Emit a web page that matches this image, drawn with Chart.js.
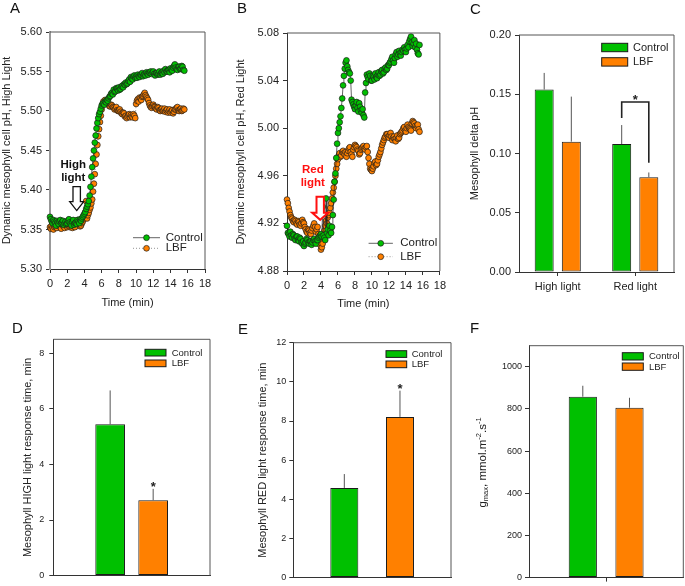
<!DOCTYPE html>
<html>
<head>
<meta charset="utf-8">
<title>Mesophyll pH responses</title>
<script src="https://cdn.jsdelivr.net/npm/chart.js@4.4.1/dist/chart.umd.min.js"></script>
<style>
  html, body { margin: 0; padding: 0; background: #fff; }
  #wrap { position: relative; width: 685px; height: 586px; overflow: hidden; font-family: "Liberation Sans", Arial, sans-serif; }
  #wrap canvas { position: absolute; }
  .tag { position: absolute; font-size: 15px; line-height: 15px; color: #111; }
</style>
</head>
<body>
<div id="wrap">
  <canvas id="chartA" style="left:0;top:0"></canvas>
  <canvas id="chartB" style="left:225px;top:0"></canvas>
  <canvas id="chartC" style="left:450px;top:0"></canvas>
  <canvas id="chartD" style="left:0;top:315px"></canvas>
  <canvas id="chartE" style="left:225px;top:315px"></canvas>
  <canvas id="chartF" style="left:455px;top:315px"></canvas>
  <div class="tag" style="left:10px;top:0">A</div>
  <div class="tag" style="left:237px;top:0">B</div>
  <div class="tag" style="left:470px;top:1px">C</div>
  <div class="tag" style="left:12px;top:320px">D</div>
  <div class="tag" style="left:238px;top:321px">E</div>
  <div class="tag" style="left:470px;top:320px">F</div>
</div>
<script>
// ---- data ----
const timeMin = [0, 0.1, 0.2, 0.3, 0.4, 0.5, 0.6, 0.7, 0.8, 0.9,
	1, 1.1, 1.2, 1.3, 1.4, 1.5, 1.6, 1.7, 1.8, 1.9,
	2, 2.1, 2.2, 2.3, 2.4, 2.5, 2.6, 2.7, 2.8, 2.9,
	3, 3.1, 3.2, 3.3, 3.4, 3.5, 3.6, 3.7, 3.8, 3.9,
	4, 4.1, 4.2, 4.3, 4.4, 4.5, 4.6, 4.7, 4.8, 4.9,
	5, 5.1, 5.2, 5.3, 5.4, 5.5, 5.6, 5.7, 5.8, 5.9,
	6, 6.1, 6.2, 6.3, 6.4, 6.5, 6.6, 6.7, 6.8, 6.9,
	7, 7.1, 7.2, 7.3, 7.4, 7.5, 7.6, 7.7, 7.8, 7.9,
	8, 8.1, 8.2, 8.3, 8.4, 8.5, 8.6, 8.7, 8.8, 8.9,
	9, 9.1, 9.2, 9.3, 9.4, 9.5, 9.6, 9.7, 9.8, 9.9,
	10, 10.1, 10.2, 10.3, 10.4, 10.5, 10.6, 10.7, 10.8, 10.9,
	11, 11.1, 11.2, 11.3, 11.4, 11.5, 11.6, 11.7, 11.8, 11.9,
	12, 12.1, 12.2, 12.3, 12.4, 12.5, 12.6, 12.7, 12.8, 12.9,
	13, 13.1, 13.2, 13.3, 13.4, 13.5, 13.6, 13.7, 13.8, 13.9,
	14, 14.1, 14.2, 14.3, 14.4, 14.5, 14.6, 14.7, 14.8, 14.9,
	15, 15.1, 15.2, 15.3, 15.4, 15.5, 15.6];
const timeTicks = [0, 2, 4, 6, 8, 10, 12, 14, 16, 18];

// A: high light
const highCtrl = [5.366, 5.363, 5.360, 5.358, 5.362, 5.360, 5.358, 5.355, 5.361, 5.359,
	5.357, 5.360, 5.362, 5.358, 5.359, 5.361, 5.356, 5.358, 5.360, 5.357,
	5.358, 5.361, 5.363, 5.359, 5.357, 5.355, 5.360, 5.362, 5.356, 5.358,
	5.359, 5.357, 5.362, 5.360, 5.358, 5.363, 5.361, 5.364, 5.366, 5.368,
	5.370, 5.372, 5.376, 5.379, 5.382, 5.386, 5.393, 5.404, 5.417, 5.429,
	5.440, 5.450, 5.460, 5.469, 5.478, 5.485, 5.491, 5.496, 5.499, 5.503,
	5.507, 5.509, 5.510, 5.508, 5.512, 5.511, 5.514, 5.513, 5.516, 5.518,
	5.519, 5.522, 5.523, 5.521, 5.527, 5.524, 5.525, 5.529, 5.528, 5.526,
	5.530, 5.527, 5.528, 5.531, 5.532, 5.530, 5.534, 5.533, 5.536, 5.534,
	5.535, 5.538, 5.540, 5.537, 5.543, 5.541, 5.540, 5.544, 5.545, 5.542,
	5.544, 5.542, 5.546, 5.544, 5.543, 5.546, 5.545, 5.548, 5.544, 5.546,
	5.547, 5.545, 5.549, 5.547, 5.546, 5.549, 5.548, 5.550, 5.547, 5.549,
	5.550, 5.547, 5.545, 5.548, 5.548, 5.546, 5.547, 5.550, 5.546, 5.548,
	5.549, 5.547, 5.551, 5.549, 5.553, 5.550, 5.550, 5.552, 5.552, 5.549,
	5.554, 5.552, 5.551, 5.555, 5.557, 5.559, 5.555, 5.553, 5.552, 5.556,
	5.556, 5.553, 5.554, 5.557, 5.556, 5.552, 5.551];
const highLbf = [5.353, 5.351, 5.355, 5.352, 5.350, 5.353, 5.354, 5.356, 5.352, 5.355,
	5.356, 5.354, 5.353, 5.351, 5.358, 5.355, 5.354, 5.352, 5.357, 5.355,
	5.353, 5.355, 5.356, 5.353, 5.354, 5.357, 5.352, 5.354, 5.355, 5.353,
	5.358, 5.360, 5.362, 5.359, 5.357, 5.354, 5.355, 5.358, 5.360, 5.363,
	5.366, 5.372, 5.386, 5.364, 5.368, 5.371, 5.375, 5.378, 5.383, 5.388,
	5.398, 5.408, 5.420, 5.433, 5.445, 5.457, 5.468, 5.477, 5.486, 5.494,
	5.502, 5.508, 5.512, 5.510, 5.514, 5.512, 5.511, 5.509, 5.508, 5.506,
	5.506, 5.508, 5.507, 5.505, 5.504, 5.502, 5.503, 5.505, 5.501, 5.500,
	5.500, 5.502, 5.499, 5.497, 5.496, 5.498, 5.497, 5.493, 5.494, 5.491,
	5.493, 5.495, 5.496, 5.492, 5.495, 5.493, 5.492, 5.496, 5.494, 5.491,
	5.509, 5.513, 5.515, 5.512, 5.517, 5.516, 5.514, 5.518, 5.519, 5.521,
	5.523, 5.520, 5.518, 5.516, 5.514, 5.510, 5.507, 5.505, 5.504, 5.506,
	5.508, 5.506, 5.505, 5.503, 5.502, 5.505, 5.504, 5.501, 5.500, 5.502,
	5.503, 5.500, 5.501, 5.503, 5.499, 5.501, 5.502, 5.498, 5.500, 5.502,
	5.498, 5.500, 5.501, 5.497, 5.499, 5.502, 5.502, 5.504, 5.505, 5.501,
	5.500, 5.502, 5.503, 5.500, 5.501, 5.503, 5.502];
const highTicks = [5.30, 5.35, 5.40, 5.45, 5.50, 5.55, 5.60];

// B: red light
const redCtrl = [4.918, 4.912, 4.911, 4.909, 4.913, 4.910, 4.908, 4.911, 4.910, 4.907,
	4.906, 4.909, 4.909, 4.906, 4.905, 4.908, 4.907, 4.904, 4.903, 4.905,
	4.901, 4.903, 4.904, 4.907, 4.906, 4.904, 4.903, 4.905, 4.905, 4.902,
	4.904, 4.906, 4.907, 4.905, 4.903, 4.906, 4.906, 4.908, 4.909, 4.910,
	4.911, 4.909, 4.934, 4.910, 4.908, 4.906, 4.941, 4.912, 4.915, 4.910,
	4.918, 4.914, 4.912, 4.917, 4.927, 4.940, 4.955, 4.962, 4.975, 4.987,
	4.996, 5.000, 5.005, 5.010, 5.017, 5.025, 5.036, 5.044, 5.050, 5.055,
	5.057, 5.052, 5.049, 5.047, 5.046, 5.040, 5.024, 5.022, 5.020, 5.018,
	5.016, 5.019, 5.022, 5.017, 5.014, 5.021, 5.018, 5.015, 5.013, 5.016,
	5.011, 5.009, 5.030, 5.038, 5.045, 5.043, 5.041, 5.046, 5.044, 5.040,
	5.040, 5.044, 5.043, 5.041, 5.046, 5.043, 5.042, 5.045, 5.047, 5.044,
	5.045, 5.048, 5.049, 5.046, 5.047, 5.050, 5.051, 5.049, 5.050, 5.053,
	5.053, 5.055, 5.056, 5.058, 5.060, 5.057, 5.055, 5.059, 5.062, 5.064,
	5.060, 5.062, 5.065, 5.063, 5.061, 5.064, 5.066, 5.065, 5.068, 5.066,
	5.064, 5.067, 5.070, 5.068, 5.073, 5.075, 5.077, 5.072, 5.069, 5.071,
	5.074, 5.068, 5.071, 5.066, 5.063, 5.062, 5.070];
const redLbf = [4.940, 4.937, 4.933, 4.930, 4.927, 4.925, 4.924, 4.922, 4.921, 4.923,
	4.922, 4.920, 4.919, 4.922, 4.921, 4.919, 4.918, 4.920, 4.923, 4.921,
	4.920, 4.917, 4.915, 4.913, 4.912, 4.915, 4.914, 4.912, 4.911, 4.914,
	4.916, 4.918, 4.920, 4.917, 4.913, 4.915, 4.917, 4.911, 4.906, 4.902,
	4.898, 4.900, 4.903, 4.908, 4.914, 4.918, 4.922, 4.920, 4.925, 4.927,
	4.929, 4.933, 4.937, 4.941, 4.946, 4.950, 4.955, 4.960, 4.966, 4.970,
	4.974, 4.977, 4.979, 4.976, 4.977, 4.980, 4.981, 4.979, 4.978, 4.980,
	4.976, 4.979, 4.981, 4.983, 4.984, 4.980, 4.978, 4.976, 4.982, 4.984,
	4.986, 4.985, 4.984, 4.982, 4.981, 4.978, 4.979, 4.982, 4.983, 4.984,
	4.985, 4.983, 4.982, 4.984, 4.985, 4.980, 4.975, 4.970, 4.966, 4.965,
	4.964, 4.966, 4.968, 4.971, 4.972, 4.969, 4.970, 4.973, 4.976, 4.978,
	4.980, 4.983, 4.986, 4.988, 4.990, 4.992, 4.993, 4.995, 4.995, 4.993,
	4.992, 4.994, 4.996, 4.993, 4.990, 4.992, 4.993, 4.991, 4.989, 4.992,
	4.994, 4.991, 4.992, 4.995, 4.996, 4.997, 4.998, 5.000, 5.001, 4.998,
	4.997, 5.000, 5.003, 5.001, 5.000, 4.999, 4.998, 5.004, 5.006, 5.005,
	5.004, 5.002, 5.000, 5.002, 5.003, 4.999, 4.997];
const redTicks = [4.88, 4.92, 4.96, 5.00, 5.04, 5.08];

// C: delta pH
const lightLabels = ['High light', 'Red light'];
const deltaCtrl = [0.154, 0.108];
const deltaCtrlErr = [0.014, 0.016];
const deltaLbf = [0.110, 0.080];
const deltaLbfErr = [0.038, 0.004];
const deltaTicks = [0, 0.05, 0.10, 0.15, 0.20];

// D: high light response time
const highTimeCtrl = [5.44];
const highTimeCtrlErr = [1.22];
const highTimeLbf = [2.71];
const highTimeLbfErr = [0.41];
const highTimeTicks = [0, 2, 4, 6, 8];

// E: red light response time
const redTimeCtrl = [4.58];
const redTimeCtrlErr = [0.71];
const redTimeLbf = [8.21];
const redTimeLbfErr = [1.34];
const redTimeTicks = [0, 2, 4, 6, 8, 10, 12];

// F: gmax
const gmaxCtrl = [858];
const gmaxCtrlErr = [52];
const gmaxLbf = [806];
const gmaxLbfErr = [47];
const gmaxTicks = [0, 200, 400, 600, 800, 1000];

// annotation anchors (data units)
const arrowA = {t: 3.1, pH: 5.374};
const arrowB = {t: 3.91, pH: 4.923};
const bracketC = {left: 0.130, top: 0.1435, right: 0.0922, star: 0.148};
const starD = 3.3;
const starE = 9.8;

// ---- style ----
const FONT = '"Liberation Sans", Arial, sans-serif';
const GREEN = '#00c000';
const ORANGE = '#ff8000';
const INK = '#222';
Chart.defaults.font.family = FONT;
Chart.defaults.color = INK;
Chart.defaults.animation = false;
Chart.defaults.plugins.legend.display = false;
Chart.defaults.plugins.tooltip.enabled = false;

// top + right border of the plot box
const framePlugin = {
	id: 'frame',
	afterDatasetsDraw(chart) {
		const {ctx, chartArea: a} = chart;
		ctx.save();
		ctx.strokeStyle = '#555';
		ctx.lineWidth = 1;
		ctx.beginPath();
		ctx.moveTo(a.left, a.top);
		ctx.lineTo(a.right, a.top);
		ctx.lineTo(a.right, a.bottom);
		ctx.stroke();
		ctx.restore();
	}
};

function prep(id, w, h) {
	const c = document.getElementById(id);
	c.width = w;
	c.height = h;
	c.style.width = w + 'px';
	c.style.height = h + 'px';
	return c;
}

function pts(times, vals) {
	return times.map((t, i) => ({x: t, y: vals[i]}));
}

// hollow down arrow, tip at (x, y)
function drawArrow(ctx, x, y, o) {
	ctx.save();
	ctx.beginPath();
	ctx.moveTo(x, y);
	ctx.lineTo(x + o.hw, y - o.head);
	ctx.lineTo(x + o.sw, y - o.head);
	ctx.lineTo(x + o.sw, y - o.head - o.shaft);
	ctx.lineTo(x - o.sw, y - o.head - o.shaft);
	ctx.lineTo(x - o.sw, y - o.head);
	ctx.lineTo(x - o.hw, y - o.head);
	ctx.closePath();
	ctx.fillStyle = '#fff';
	ctx.fill();
	ctx.strokeStyle = o.color;
	ctx.lineWidth = o.lw;
	ctx.lineJoin = 'miter';
	ctx.stroke();
	ctx.restore();
}

// line + marker legend for the time courses
function lineLegend(chart, x0, x1, tx, ys) {
	const ctx = chart.ctx;
	chart.data.datasets.forEach((ds, i) => {
		const y = ys[i];
		ctx.save();
		ctx.strokeStyle = ds.borderColor;
		ctx.lineWidth = ds.borderWidth;
		ctx.setLineDash(ds.borderDash || []);
		ctx.beginPath();
		ctx.moveTo(x0, y);
		ctx.lineTo(x1, y);
		ctx.stroke();
		ctx.setLineDash([]);
		ctx.beginPath();
		ctx.arc((x0 + x1) / 2, y, ds.pointRadius, 0, Math.PI * 2);
		ctx.fillStyle = ds.pointBackgroundColor;
		ctx.fill();
		ctx.strokeStyle = ds.pointBorderColor;
		ctx.lineWidth = ds.pointBorderWidth;
		ctx.stroke();
		ctx.fillStyle = INK;
		ctx.font = '11.5px ' + FONT;
		ctx.textAlign = 'left';
		ctx.textBaseline = 'middle';
		ctx.fillText(ds.label, tx, y);
		ctx.restore();
	});
}

// box legend for the bar panels
function boxLegend(chart, bx, by, bw, bh, step, tx, size) {
	const ctx = chart.ctx;
	chart.data.datasets.forEach((ds, i) => {
		const y = by + i * step;
		ctx.save();
		ctx.fillStyle = ds.backgroundColor;
		ctx.fillRect(bx, y, bw, bh);
		ctx.strokeStyle = '#1b1b1b';
		ctx.lineWidth = 1;
		ctx.strokeRect(bx, y, bw, bh);
		ctx.fillStyle = INK;
		ctx.font = size + 'px ' + FONT;
		ctx.textAlign = 'left';
		ctx.textBaseline = 'middle';
		ctx.fillText(ds.label, bx + tx, y + bh / 2 + 0.5);
		ctx.restore();
	});
}

function drawStar(ctx, x, y, size) {
	ctx.save();
	ctx.fillStyle = INK;
	ctx.font = 'bold ' + size + 'px ' + FONT;
	ctx.textAlign = 'center';
	ctx.textBaseline = 'alphabetic';
	ctx.fillText('*', x, y + size * 0.57);
	ctx.restore();
}

// upper error bars, one array of errors per dataset
function errorBars(errs) {
	return {
		id: 'errorBars',
		afterDatasetsDraw(chart) {
			const {ctx} = chart;
			const y = chart.scales.y;
			ctx.save();
			ctx.strokeStyle = '#555';
			ctx.lineWidth = 1;
			chart.data.datasets.forEach((ds, i) => {
				chart.getDatasetMeta(i).data.forEach((bar, j) => {
					const top = y.getPixelForValue(ds.data[j] + errs[i][j]);
					ctx.beginPath();
					ctx.moveTo(bar.x, bar.y);
					ctx.lineTo(bar.x, top);
					ctx.stroke();
				});
			});
			ctx.restore();
		}
	};
}

// ---- time course panels (A, B) ----
function timeCourse(id, o) {
	const canvas = prep(id, o.w, o.h);
	return new Chart(canvas, {
		type: 'line',
		data: {
			datasets: [{
				label: 'Control',
				data: pts(timeMin, o.ctrl),
				borderColor: '#222',
				borderWidth: 0.7,
				pointRadius: 2.9,
				pointBackgroundColor: GREEN,
				pointBorderColor: '#1b1b1b',
				pointBorderWidth: 0.7,
				tension: 0
			}, {
				label: 'LBF',
				data: pts(timeMin, o.lbf),
				borderColor: '#888',
				borderWidth: 0.9,
				borderDash: [1, 2],
				pointRadius: 2.9,
				pointBackgroundColor: ORANGE,
				pointBorderColor: '#1b1b1b',
				pointBorderWidth: 0.7,
				tension: 0
			}]
		},
		options: {
			responsive: false,
			layout: {padding: o.pad},
			clip: false,
			scales: {
				x: {
					type: 'linear',
					min: 0,
					max: 18,
					afterBuildTicks: s => { s.ticks = timeTicks.map(v => ({value: v})); },
					afterFit: s => { s.height = o.xH; },
					ticks: {font: {size: 11}, color: INK, padding: 4, maxRotation: 0},
					grid: {drawOnChartArea: false, tickLength: 4, color: '#333'},
					border: {color: '#333'},
					title: {display: true, text: 'Time (min)', font: {size: 11}, color: INK, padding: {top: 0, bottom: o.xTitlePad}}
				},
				y: {
					min: o.yTicks[0],
					max: o.yTicks[o.yTicks.length - 1],
					afterBuildTicks: s => { s.ticks = o.yTicks.map(v => ({value: v})); },
					afterFit: s => { s.width = o.yW; },
					ticks: {font: {size: 11}, color: INK, padding: 4, callback: v => Number(v).toFixed(2)},
					grid: {drawOnChartArea: false, tickLength: 4, color: '#333'},
					border: {color: o.yAxisColor, width: o.yAxisWidth},
					title: {display: true, text: o.yTitle, font: {size: 11}, color: INK, padding: {top: o.yTitlePad, bottom: 0}}
				}
			}
		},
		plugins: [framePlugin, o.extras]
	});
}

timeCourse('chartA', {
	w: 225, h: 315,
	pad: {left: 0, top: 32, right: 20, bottom: 0},
	yW: 50, xH: 46, xTitlePad: 5.4, yTitlePad: 0.5,
	yTicks: highTicks, yTitle: 'Dynamic mesophyll cell pH, High Light',
	yAxisColor: '#999', yAxisWidth: 2,
	ctrl: highCtrl, lbf: highLbf,
	extras: {
		id: 'extrasA',
		afterDatasetsDraw(chart) {
			const {ctx, chartArea: a, scales: {x, y}} = chart;
			const tx = x.getPixelForValue(arrowA.t);
			const ty = y.getPixelForValue(arrowA.pH);
			drawArrow(ctx, tx, ty, {head: 9, shaft: 15, hw: 7, sw: 3.7, color: '#111', lw: 1.3});
			ctx.save();
			ctx.fillStyle = '#111';
			ctx.font = 'bold 11.5px ' + FONT;
			ctx.textAlign = 'center';
			ctx.textBaseline = 'middle';
			ctx.fillText('High', tx - 3.4, ty - 45.7);
			ctx.fillText('light', tx - 3.4, ty - 32.4);
			ctx.restore();
			lineLegend(chart, a.right - 72, a.right - 45, a.right - 39.3, [a.bottom - 31.3, a.bottom - 20.7]);
		}
	}
});

timeCourse('chartB', {
	w: 225, h: 315,
	pad: {left: 0, top: 33, right: 8, bottom: 0},
	yW: 62, xH: 44, xTitlePad: 4.4, yTitlePad: 9.4,
	yTicks: redTicks, yTitle: 'Dynamic mesophyll cell pH, Red Light',
	yAxisColor: '#333', yAxisWidth: 1,
	ctrl: redCtrl, lbf: redLbf,
	extras: {
		id: 'extrasB',
		afterDatasetsDraw(chart) {
			const {ctx, chartArea: a, scales: {x, y}} = chart;
			const tx = x.getPixelForValue(arrowB.t);
			const ty = y.getPixelForValue(arrowB.pH);
			drawArrow(ctx, tx, ty, {head: 7, shaft: 16, hw: 8, sw: 3.7, color: '#ff1010', lw: 2});
			ctx.save();
			ctx.fillStyle = '#ff1010';
			ctx.font = 'bold 11.5px ' + FONT;
			ctx.textAlign = 'center';
			ctx.textBaseline = 'middle';
			ctx.fillText('Red', tx - 7.4, ty - 50);
			ctx.fillText('light', tx - 7.4, ty - 36.7);
			ctx.restore();
			lineLegend(chart, a.right - 71.3, a.right - 47, a.right - 39.7, [a.bottom - 27.7, a.bottom - 14.3]);
		}
	}
});

// ---- bar panels (C-F) ----
function barPanel(id, o) {
	const canvas = prep(id, o.w, o.h);
	const barStyle = {borderColor: '#1b1b1b', borderWidth: 1, borderSkipped: false};
	return new Chart(canvas, {
		type: 'bar',
		data: {
			labels: o.labels,
			datasets: [
				Object.assign({label: 'Control', data: o.ctrl, backgroundColor: GREEN}, barStyle),
				Object.assign({label: 'LBF', data: o.lbf, backgroundColor: ORANGE}, barStyle)
			]
		},
		options: {
			responsive: false,
			layout: {padding: o.pad},
			datasets: {bar: {categoryPercentage: o.catPct, barPercentage: o.barPct}},
			scales: {
				x: {
					afterFit: s => { s.height = o.xH; },
					ticks: {display: o.showLabels, font: {size: 11}, color: INK, padding: 4, maxRotation: 0},
					grid: {offset: false, drawOnChartArea: false, drawTicks: o.xTickMarks, tickLength: 4, color: '#333'},
					border: {color: '#333'}
				},
				y: {
					min: 0,
					max: o.yMax,
					afterBuildTicks: s => { s.ticks = o.yTicks.map(v => ({value: v})); },
					afterFit: s => { s.width = o.yW; },
					ticks: {font: {size: o.tickSize}, color: INK, padding: o.tickPad, callback: o.fmt},
					grid: {drawOnChartArea: false, tickLength: 4, color: '#333'},
					border: {color: '#333'},
					title: {display: !!o.yTitle, text: o.yTitle || '', font: {size: 11}, color: INK, padding: {top: o.yTitlePad, bottom: 0}}
				}
			}
		},
		plugins: [framePlugin, errorBars([o.ctrlErr, o.lbfErr]), o.extras]
	});
}

barPanel('chartC', {
	w: 235, h: 300,
	pad: {left: 0, top: 35, right: 11, bottom: 0},
	yW: 69, xH: 28, catPct: 0.70, barPct: 0.70,
	labels: lightLabels, showLabels: true, xTickMarks: true,
	ctrl: deltaCtrl, ctrlErr: deltaCtrlErr, lbf: deltaLbf, lbfErr: deltaLbfErr,
	yMax: 0.20, yTicks: deltaTicks, tickSize: 11, tickPad: 4, fmt: v => Number(v).toFixed(2),
	yTitle: 'Mesophyll delta pH', yTitlePad: 18.4,
	extras: {
		id: 'extrasC',
		afterDatasetsDraw(chart) {
			const {ctx, chartArea: a, scales: {y}} = chart;
			boxLegend(chart, a.right - 72.3, a.top + 8.3, 26, 8.4, 14.4, 31.3, 11);
			const xl = chart.getDatasetMeta(0).data[1].x;
			const xr = chart.getDatasetMeta(1).data[1].x;
			ctx.save();
			ctx.strokeStyle = INK;
			ctx.lineWidth = 1.6;
			ctx.beginPath();
			ctx.moveTo(xl, y.getPixelForValue(bracketC.left));
			ctx.lineTo(xl, y.getPixelForValue(bracketC.top));
			ctx.lineTo(xr, y.getPixelForValue(bracketC.top));
			ctx.lineTo(xr, y.getPixelForValue(bracketC.right));
			ctx.stroke();
			ctx.restore();
			drawStar(ctx, (xl + xr) / 2, y.getPixelForValue(bracketC.star), 13);
		}
	}
});

barPanel('chartD', {
	w: 225, h: 271,
	pad: {left: 0, top: 24.3, right: 15, bottom: 0},
	yW: 53.3, xH: 10, catPct: 0.549, barPct: 0.69,
	labels: [''], showLabels: false, xTickMarks: false,
	ctrl: highTimeCtrl, ctrlErr: highTimeCtrlErr, lbf: highTimeLbf, lbfErr: highTimeLbfErr,
	yMax: 8.5, yTicks: highTimeTicks, tickSize: 9, tickPad: 5, fmt: v => v,
	yTitle: 'Mesophyll HIGH light response time, min', yTitlePad: 21.4,
	extras: {
		id: 'extrasD',
		afterDatasetsDraw(chart) {
			const {ctx, chartArea: a, scales: {y}} = chart;
			boxLegend(chart, a.right - 65, a.top + 10, 21, 6.7, 10.7, 26.7, 9.5);
			drawStar(ctx, chart.getDatasetMeta(1).data[0].x, y.getPixelForValue(starD), 13);
		}
	}
});

barPanel('chartE', {
	w: 230, h: 271,
	pad: {left: 0, top: 27.7, right: 4, bottom: 0},
	yW: 68.3, xH: 6.7, catPct: 0.706, barPct: 0.503,
	labels: [''], showLabels: false, xTickMarks: false,
	ctrl: redTimeCtrl, ctrlErr: redTimeCtrlErr, lbf: redTimeLbf, lbfErr: redTimeLbfErr,
	yMax: 12, yTicks: redTimeTicks, tickSize: 9, tickPad: 3, fmt: v => v,
	yTitle: 'Mesophyll RED light response time, min', yTitlePad: 31.4,
	extras: {
		id: 'extrasE',
		afterDatasetsDraw(chart) {
			const {ctx, chartArea: a, scales: {y}} = chart;
			boxLegend(chart, a.right - 65, a.top + 8, 20.7, 6.7, 10.3, 25.7, 9.5);
			drawStar(ctx, chart.getDatasetMeta(1).data[0].x, y.getPixelForValue(starE), 13);
		}
	}
});

barPanel('chartF', {
	w: 230, h: 271,
	pad: {left: 0, top: 30.7, right: 1.7, bottom: 0},
	yW: 74, xH: 4.3, catPct: 0.605, barPct: 0.604,
	labels: [''], showLabels: false, xTickMarks: true,
	ctrl: gmaxCtrl, ctrlErr: gmaxCtrlErr, lbf: gmaxLbf, lbfErr: gmaxLbfErr,
	yMax: 1100, yTicks: gmaxTicks, tickSize: 9, tickPad: 3, fmt: v => v,
	yTitle: '', yTitlePad: 0,
	extras: {
		id: 'extrasF',
		afterDatasetsDraw(chart) {
			const {ctx, chartArea: a} = chart;
			boxLegend(chart, a.right - 61, a.top + 7, 21, 7.3, 10.3, 26.7, 9.5);
			// y title with sub/superscripts: g_max, mmol.m^-2.s^-1
			const parts = [['g', 11.5, 0], ['max', 7.5, 3], [', mmol.m', 11.5, 0], ['-2', 7.5, -4], ['.s', 11.5, 0], ['-1', 7.5, -4]];
			ctx.save();
			ctx.translate(28, 462.5 - 315);
			ctx.rotate(-Math.PI / 2);
			ctx.fillStyle = INK;
			ctx.textBaseline = 'middle';
			ctx.textAlign = 'left';
			let total = 0;
			parts.forEach(p => { ctx.font = p[1] + 'px ' + FONT; total += ctx.measureText(p[0]).width; });
			let px = -total / 2;
			parts.forEach(p => {
				ctx.font = p[1] + 'px ' + FONT;
				ctx.fillText(p[0], px, p[2]);
				px += ctx.measureText(p[0]).width;
			});
			ctx.restore();
		}
	}
});
</script>
</body>
</html>
